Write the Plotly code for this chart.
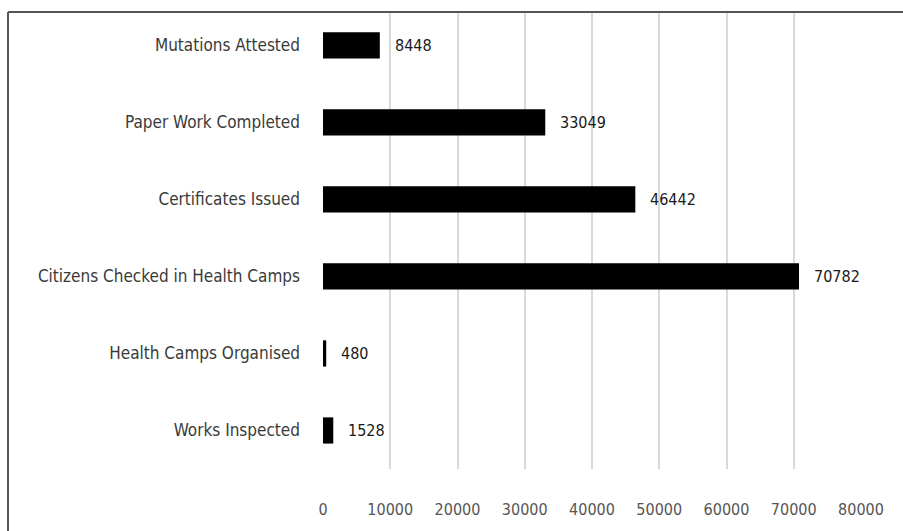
import plotly.graph_objects as go

# Activity counts (top to bottom as displayed)
categories = [
    "Mutations Attested",
    "Paper Work Completed",
    "Certificates Issued",
    "Citizens Checked in Health Camps",
    "Health Camps Organised",
    "Works Inspected",
]
counts = [8448, 33049, 46442, 70782, 480, 1528]
x_ticks = [0, 10000, 20000, 30000, 40000, 50000, 60000, 70000, 80000]

W, H = 903, 531
ML, MR, MT, MB = 323, 42, 13, 60
PW, PH = W - ML - MR, H - MT - MB

FONT = "Liberation Sans Narrow, DejaVu Sans Condensed, Arial Narrow, sans-serif"


def px_to_paper_x(px):
    return (px - ML) / PW


def px_to_paper_y(py):
    return 1 - (py - MT) / PH


fig = go.Figure(
    go.Bar(
        x=counts,
        y=categories,
        orientation="h",
        marker=dict(color="#000000", line=dict(width=0)),
        width=0.34,
        hoverinfo="skip",
    )
)

# value labels to the right of each bar
for cat, val in zip(categories, counts):
    fig.add_annotation(
        x=val, y=cat, xref="x", yref="y",
        text=str(val), showarrow=False,
        xanchor="left", xshift=13,
        font=dict(family=FONT, size=16, color="#1a1a1a"),
    )

# outer frame (top and left edges; the rest runs off the canvas)
frame = dict(color="#555555", width=2)
fig.add_shape(type="line", xref="paper", yref="paper",
              x0=px_to_paper_x(8), x1=px_to_paper_x(W + 5),
              y0=px_to_paper_y(12), y1=px_to_paper_y(12), line=frame)
fig.add_shape(type="line", xref="paper", yref="paper",
              x0=px_to_paper_x(8), x1=px_to_paper_x(8),
              y0=px_to_paper_y(12), y1=px_to_paper_y(H + 5), line=frame)

fig.update_layout(
    width=W, height=H,
    margin=dict(l=ML, r=MR, t=MT, b=MB, pad=0),
    plot_bgcolor="white", paper_bgcolor="white",
    showlegend=False,
    xaxis=dict(
        range=[0, 80000],
        tickvals=x_ticks,
        ticktext=[str(v) for v in x_ticks],
        showgrid=True, gridcolor="#d9d9d9", gridwidth=1.5,
        zeroline=False, showline=False,
        ticks="", ticklabelstandoff=29,
        tickfont=dict(family=FONT, size=16, color="#555555"),
        fixedrange=True,
    ),
    yaxis=dict(
        categoryorder="array",
        categoryarray=categories[::-1],
        range=[-0.5, 5.42],
        showgrid=False, zeroline=False, showline=False,
        ticks="", ticklabelstandoff=22,
        tickfont=dict(family=FONT, size=17, color="#3a3a3a"),
        fixedrange=True,
    ),
)

fig.write_html("out.html", config={"displayModeBar": False})
